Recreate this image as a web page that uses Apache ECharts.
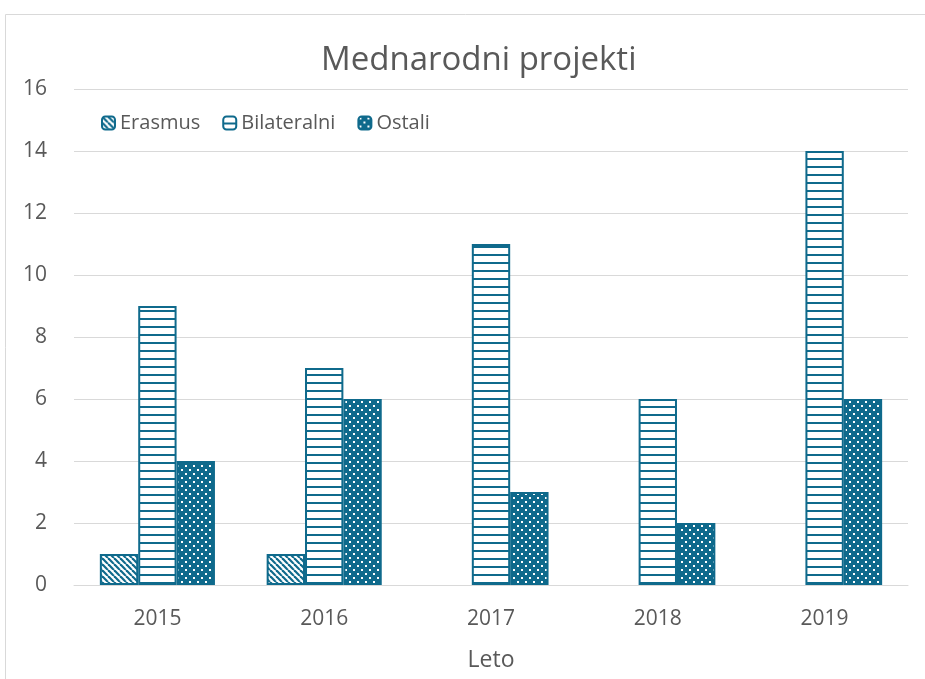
<!DOCTYPE html>
<html>
<head>
<meta charset="utf-8">
<script src="https://cdn.jsdelivr.net/npm/echarts@6/dist/echarts.min.js"></script>
<style>
  html, body { margin: 0; padding: 0; background: #fff; }
  #main { width: 925px; height: 679px; }
</style>
</head>
<body>
<div id="main"></div>
<script>
const years = ['2015', '2016', '2017', '2018', '2019'];
const erasmus = [1, 1, null, null, null];
const bilateralni = [9, 7, 11, 6, 14];
const ostali = [4, 6, 3, 2, 6];

const blue = '#0f6a8c';

// fill patterns like the Excel ones
function makePattern(kind) {
  const c = document.createElement('canvas');
  const ctx = c.getContext('2d');
  if (kind === 'diag') {
    c.width = 6; c.height = 6;
    ctx.fillStyle = '#fff';
    ctx.fillRect(0, 0, 6, 6);
    ctx.strokeStyle = blue;
    ctx.lineWidth = 2.2;
    for (let k = -12; k <= 12; k += 6) {
      ctx.beginPath();
      ctx.moveTo(k, 0);
      ctx.lineTo(k + 6, 6);
      ctx.stroke();
    }
  } else if (kind === 'horiz') {
    c.width = 8; c.height = 8;
    ctx.fillStyle = '#fff';
    ctx.fillRect(0, 0, 8, 8);
    ctx.fillStyle = blue;
    ctx.fillRect(0, 6, 8, 2);
  } else {
    c.width = 8; c.height = 8;
    ctx.fillStyle = blue;
    ctx.fillRect(0, 0, 8, 8);
    ctx.fillStyle = '#fff';
    ctx.fillRect(1, 1, 2, 2);
    ctx.fillRect(5, 5, 2, 2);
  }
  return { image: c, repeat: 'repeat' };
}

function barSeries(name, data, kind) {
  return {
    name: name,
    type: 'bar',
    data: data,
    barGap: '0%',
    barCategoryGap: '31%',
    itemStyle: {
      color: makePattern(kind),
      borderColor: blue,
      borderWidth: 2
    }
  };
}

const chart = echarts.init(document.getElementById('main'));
const font = 'Open Sans';
const option = {
  animation: false,
  textStyle: { fontFamily: font },
  title: {
    text: 'Mednarodni projekti',
    left: 316,
    top: 39,
    textStyle: { fontFamily: font, fontSize: 33, fontWeight: 'normal', color: '#595959' }
  },
  graphic: [{
    type: 'rect',
    shape: { x: 5.5, y: 14.5, width: 940, height: 700 },
    style: { fill: 'none', stroke: '#d9d9d9', lineWidth: 1 }
  }],
  legend: {
    left: 96,
    top: 108,
    itemWidth: 13,
    itemHeight: 13,
    itemGap: 22,
    textStyle: { fontFamily: font, fontSize: 20, color: '#595959' },
    data: ['Erasmus', 'Bilateralni', 'Ostali']
  },
  grid: { left: 74, right: 17, top: 89, bottom: 94 },
  xAxis: {
    type: 'category',
    data: years,
    name: 'Leto',
    nameLocation: 'middle',
    nameGap: 64,
    nameTextStyle: { fontFamily: font, fontSize: 23, color: '#595959' },
    axisLine: { lineStyle: { color: '#d9d9d9', width: 1 } },
    axisTick: { show: false },
    axisLabel: { fontFamily: font, fontSize: 21, color: '#595959', margin: 24 }
  },
  yAxis: {
    type: 'value',
    min: 0,
    max: 16,
    interval: 2,
    axisLine: { show: false },
    axisTick: { show: false },
    axisLabel: { fontFamily: font, fontSize: 21, color: '#595959', margin: 27 },
    splitLine: { lineStyle: { color: '#d9d9d9', width: 1 } }
  },
  series: [
    barSeries('Erasmus', erasmus, 'diag'),
    barSeries('Bilateralni', bilateralni, 'horiz'),
    barSeries('Ostali', ostali, 'dots')
  ]
};
chart.setOption(option);
</script>
</body>
</html>
